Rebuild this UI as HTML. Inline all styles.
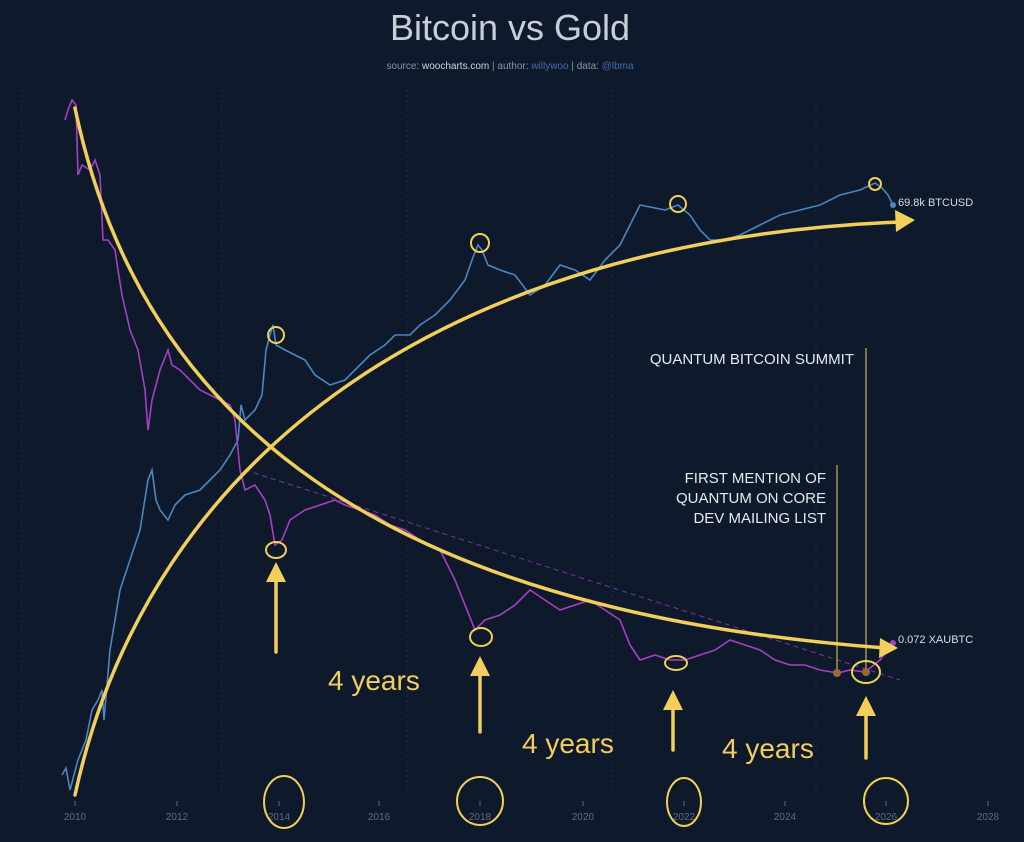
<!DOCTYPE html>
<html><head><meta charset="utf-8"><style>
html,body{margin:0;padding:0;background:#0e1a2c;}
svg{display:block;font-family:"Liberation Sans",sans-serif;}
</style></head><body>
<svg width="1024" height="842" viewBox="0 0 1024 842" xmlns="http://www.w3.org/2000/svg">
<rect width="1024" height="842" fill="#0e1a2c"/>
<text x="510" y="40" font-size="36" fill="#c9ced6" text-anchor="middle">Bitcoin vs Gold</text>
<text x="510" y="69" font-size="10" fill="#8a93a0" text-anchor="middle">source: <tspan fill="#d0d4da">woocharts.com</tspan> | author: <tspan fill="#3e6ea8">willywoo</tspan> | data: <tspan fill="#3e6ea8">@lbma</tspan></text>
<g stroke="#1f2c40" stroke-width="1" stroke-dasharray="2,3">
<line x1="22" y1="90" x2="22" y2="795"/><line x1="222" y1="90" x2="222" y2="795"/><line x1="407" y1="90" x2="407" y2="795"/><line x1="612" y1="90" x2="612" y2="795"/><line x1="816" y1="90" x2="816" y2="795"/>
</g>
<g fill="#5f6b7a" font-size="10" text-anchor="middle">
<text x="75" y="820">2010</text><text x="177" y="820">2012</text><text x="279" y="820">2014</text><text x="379" y="820">2016</text><text x="480" y="820">2018</text><text x="583" y="820">2020</text><text x="684" y="820">2022</text><text x="785" y="820">2024</text><text x="886" y="820">2026</text><text x="988" y="820">2028</text>
</g>
<g stroke="#5f6b7a"><line x1="75" y1="801" x2="75" y2="806"/><line x1="177" y1="801" x2="177" y2="806"/><line x1="279" y1="801" x2="279" y2="806"/><line x1="379" y1="801" x2="379" y2="806"/><line x1="480" y1="801" x2="480" y2="806"/><line x1="583" y1="801" x2="583" y2="806"/><line x1="684" y1="801" x2="684" y2="806"/><line x1="785" y1="801" x2="785" y2="806"/><line x1="886" y1="801" x2="886" y2="806"/><line x1="988" y1="801" x2="988" y2="806"/></g>
<polyline fill="none" stroke="#4a86c0" stroke-width="1.6" points="62,775 66,768 70,790 78,760 86,740 92,710 98,700 102,690 104,720 110,650 120,590 130,560 140,530 148,480 152,470 156,500 160,510 168,520 175,505 185,495 200,490 210,480 220,470 230,455 238,440 241,405 245,420 255,410 262,395 266,350 270,335 273,325 276,345 285,350 295,355 305,360 315,375 330,385 345,380 360,365 370,355 385,345 395,335 410,335 420,325 435,315 450,300 465,280 472,260 478,245 482,250 488,265 500,270 515,275 530,295 545,285 560,265 575,270 590,280 605,260 620,245 630,225 640,205 655,208 665,210 678,205 690,215 700,230 710,240 725,240 740,235 760,225 780,215 800,210 820,205 840,195 860,190 875,183 882,188 888,195 893,205"/>
<polyline fill="none" stroke="#a63fc2" stroke-width="1.6" points="65,120 68,110 72,100 76,105 78,175 82,165 90,170 95,160 100,175 103,240 108,240 115,250 118,270 122,295 130,330 138,350 145,390 148,430 152,400 160,370 168,350 172,365 180,370 190,380 200,390 210,395 220,400 230,405 235,420 240,470 245,490 255,485 265,500 270,515 275,545 282,540 290,520 305,510 320,505 335,500 345,505 360,510 375,515 390,525 405,530 420,540 440,550 455,580 465,605 475,630 485,620 500,615 515,605 530,590 545,600 560,610 575,605 590,600 605,610 620,620 630,645 640,660 655,655 670,660 685,660 700,655 715,650 730,640 745,645 760,650 775,660 790,665 805,665 820,670 838,673 850,670 865,672 880,660 893,643"/>
<line x1="245" y1="470" x2="900" y2="680" stroke="#7a35a0" stroke-width="1" stroke-dasharray="5,4"/>
<circle cx="893" cy="205" r="3" fill="#4a86c0"/><circle cx="893" cy="643" r="3" fill="#a63fc2"/>
<text x="898" y="206" font-size="11" fill="#d8dce2">69.8k BTCUSD</text>
<text x="898" y="643" font-size="11" fill="#d8dce2">0.072 XAUBTC</text>
<g stroke="#f2cf5b" fill="none" stroke-width="3.5" stroke-linecap="round">
<path d="M75,108 C140,420 380,610 885,648"/>
<path d="M75,795 C150,450 450,240 900,222"/>
<line x1="276" y1="652" x2="276" y2="575"/><line x1="480" y1="732" x2="480" y2="670"/><line x1="673" y1="750" x2="673" y2="705"/><line x1="866" y1="758" x2="866" y2="712"/>
</g>
<g fill="#f2cf5b">
<polygon points="915,220 895,210 896,232"/><polygon points="898,648 880,638 879,658"/>
<polygon points="276,562 266,582 286,582"/><polygon points="480,656 470,676 490,676"/><polygon points="673,690 663,710 683,710"/><polygon points="866,696 856,716 876,716"/>
</g>
<g stroke="#f2cf5b" fill="none" stroke-width="2">
<circle cx="276" cy="335" r="8"/><ellipse cx="276" cy="550" rx="10" ry="8"/><circle cx="480" cy="243" r="9"/><ellipse cx="481" cy="637" rx="11" ry="9"/><circle cx="678" cy="204" r="8"/><ellipse cx="676" cy="663" rx="11" ry="7"/><circle cx="875" cy="184" r="6"/><ellipse cx="866" cy="672" rx="14" ry="11"/>
<ellipse cx="284" cy="802" rx="20" ry="26"/><ellipse cx="480" cy="801" rx="23" ry="24"/><ellipse cx="684" cy="802" rx="17" ry="24"/><ellipse cx="886" cy="801" rx="22" ry="23"/>
</g>
<g fill="#f2cf5b" font-size="28">
<text x="328" y="690">4 years</text><text x="522" y="753">4 years</text><text x="722" y="758">4 years</text>
</g>
<line x1="866" y1="348" x2="866" y2="668" stroke="#f2cf5b" stroke-width="1"/>
<line x1="837" y1="465" x2="837" y2="670" stroke="#f2cf5b" stroke-width="1"/>
<circle cx="837" cy="673" r="4" fill="#9a6a3a"/><circle cx="866" cy="672" r="4" fill="#9a6a3a"/>
<text x="854" y="364" font-size="15" fill="#e6e8ec" text-anchor="end">QUANTUM BITCOIN SUMMIT</text>
<g font-size="15" fill="#e6e8ec" text-anchor="end">
<text x="826" y="483">FIRST MENTION OF</text><text x="826" y="503">QUANTUM ON CORE</text><text x="826" y="523">DEV MAILING LIST</text>
</g>
</svg>
</body></html>
